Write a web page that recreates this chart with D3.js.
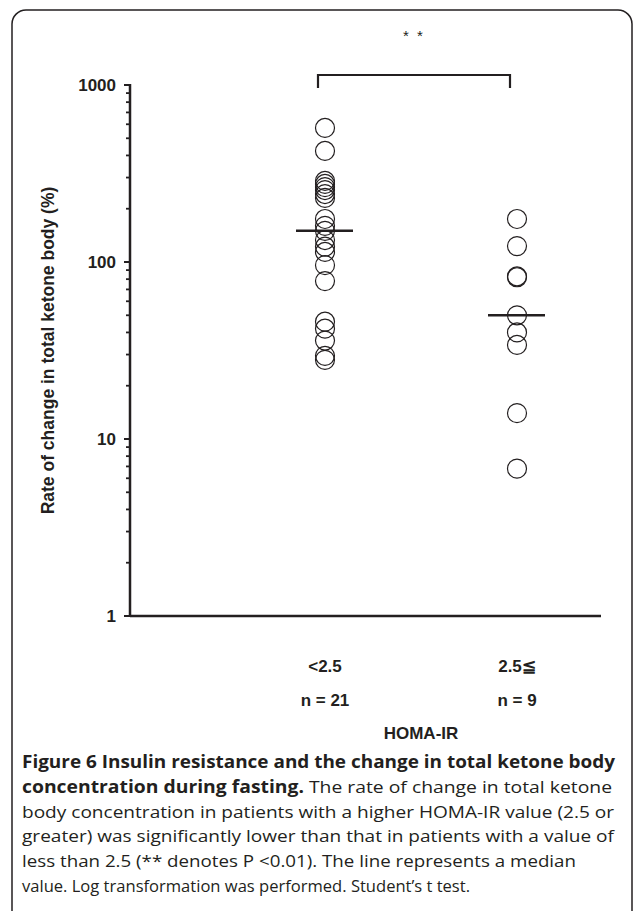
<!DOCTYPE html>
<html>
<head>
<meta charset="utf-8">
<script src="https://cdn.jsdelivr.net/npm/d3@7"></script>
<style>
body{margin:0;background:#fff;}
svg{display:block;}
</style>
</head>
<body>
<div id="graph"></div>
<script>
// categories and values (rate of change in total ketone body, %)
var groups = ["<2.5", "2.5≦"];
var counts = ["n = 21", "n = 9"];
var lowIR = [572, 424, 287, 276, 265, 255, 242, 230, 175, 160, 150, 133, 122, 114, 96, 78, 46, 42, 36, 29.5, 28];
var highIR = [175, 123, 83, 82, 50, 40, 34, 14, 6.8];
var yTicks = [1, 10, 100, 1000];
var captionBold = "Figure 6 Insulin resistance and the change in total ketone body";
var captionLines = [
  ["concentration during fasting.", " The rate of change in total ketone"],
  ["", "body concentration in patients with a higher HOMA-IR value (2.5 or"],
  ["", "greater) was significantly lower than that in patients with a value of"],
  ["", "less than 2.5 (** denotes P <0.01). The line represents a median"],
  ["", "value. Log transformation was performed. Student\u2019s t test."]
];

var W = 633, H = 911, ink = "#231f20";
var svg = d3.select("#graph").append("svg").attr("width", W).attr("height", H);

// frame
svg.append("rect").attr("x", 12).attr("y", 10).attr("width", 620).attr("height", 1000)
  .attr("rx", 14).attr("fill", "none").attr("stroke", ink).attr("stroke-width", 1.5);

var y = d3.scaleLog().domain([1, 1000]).range([616, 85]);
var x = d3.scalePoint().domain(groups).range([229, 613]).padding(0.5);
var chartFont = "'Liberation Sans', Arial, sans-serif";

// y axis (major + minor ticks)
var minor = [];
[1, 10, 100].forEach(function(d){ for (var k = 2; k < 10; k++) minor.push(d * k); });
var axisX = 130;
svg.append("line").attr("x1", axisX).attr("x2", axisX).attr("y1", y(1000) - 1).attr("y2", y(1) + 1)
  .attr("stroke", ink).attr("stroke-width", 2.5);
svg.selectAll(".minor").data(minor).enter().append("line")
  .attr("x1", axisX - 4).attr("x2", axisX).attr("y1", function(d){ return y(d); }).attr("y2", function(d){ return y(d); })
  .attr("stroke", ink).attr("stroke-width", 1.8);
svg.selectAll(".major").data(yTicks).enter().append("line")
  .attr("x1", axisX - 6).attr("x2", axisX).attr("y1", function(d){ return y(d); }).attr("y2", function(d){ return y(d); })
  .attr("stroke", ink).attr("stroke-width", 2);
svg.selectAll(".ylab").data(yTicks).enter().append("text")
  .attr("x", axisX - 14).attr("y", function(d){ return y(d); }).attr("dy", "0.36em")
  .attr("text-anchor", "end").attr("font-family", chartFont).attr("font-weight", "bold")
  .attr("font-size", 17).attr("fill", ink).text(function(d){ return d; });

// x axis line
svg.append("line").attr("x1", axisX).attr("x2", 601).attr("y1", y(1)).attr("y2", y(1))
  .attr("stroke", ink).attr("stroke-width", 2.5);

// y title
svg.append("text").attr("transform", "translate(54," + ((y(1000) + y(1)) / 2) + ") rotate(-90)")
  .attr("text-anchor", "middle").attr("font-family", chartFont).attr("font-weight", "bold")
  .attr("font-size", 17.5).attr("fill", ink).text("Rate of change in total ketone body (%)");

// points
var sets = [lowIR, highIR];
sets.forEach(function(vals, i){
  var g = svg.append("g");
  g.selectAll("circle").data(vals).enter().append("circle")
    .attr("cx", x(groups[i])).attr("cy", function(d){ return y(d); }).attr("r", 9.5)
    .attr("fill", "none").attr("stroke", ink).attr("stroke-width", 1.2);
  var med = d3.median(vals);
  g.append("line").attr("x1", x(groups[i]) - 29).attr("x2", x(groups[i]) + 28)
    .attr("y1", y(med)).attr("y2", y(med)).attr("stroke", ink).attr("stroke-width", 2.5);
});

// significance bracket
var bx0 = x(groups[0]) - 7, bx1 = x(groups[1]) - 7, by = 75;
svg.append("path").attr("d", "M" + bx0 + "," + (by + 13) + "V" + by + "H" + bx1 + "V" + (by + 13))
  .attr("fill", "none").attr("stroke", ink).attr("stroke-width", 2.2);
svg.append("text").attr("x", (bx0 + bx1) / 2).attr("y", 41).attr("text-anchor", "middle")
  .attr("font-family", chartFont).attr("font-size", 15).attr("letter-spacing", 2).attr("fill", ink).text("* *");

// x labels
groups.forEach(function(gname, i){
  svg.append("text").attr("x", x(gname)).attr("y", y(1) + 56).attr("text-anchor", "middle")
    .attr("font-family", chartFont).attr("font-weight", "bold").attr("font-size", 17).attr("fill", ink).text(gname);
  svg.append("text").attr("x", x(gname)).attr("y", y(1) + 90).attr("text-anchor", "middle")
    .attr("font-family", chartFont).attr("font-weight", "bold").attr("font-size", 17).attr("fill", ink).text(counts[i]);
});
svg.append("text").attr("x", (x(groups[0]) + x(groups[1])) / 2).attr("y", y(1) + 123).attr("text-anchor", "middle")
  .attr("font-family", chartFont).attr("font-weight", "bold").attr("font-size", 17).attr("fill", ink).text("HOMA-IR");

// caption
var capFont = "'Open Sans', 'Noto Sans', sans-serif";
var capY = 768, lh = 24.8;
var widths = [593, 590, 592, 592, 554, 448];
svg.append("text").attr("x", 22).attr("y", capY).attr("font-family", capFont)
  .attr("font-size", 17).attr("font-weight", "bold").attr("fill", ink)
  .attr("textLength", widths[0]).attr("lengthAdjust", "spacingAndGlyphs").text(captionBold);
captionLines.forEach(function(parts, i){
  var t = svg.append("text").attr("x", 22).attr("y", capY + lh * (i + 1)).attr("font-family", capFont)
    .attr("font-size", 17).attr("fill", ink)
    .attr("textLength", widths[i + 1]).attr("lengthAdjust", "spacingAndGlyphs");
  if (parts[0]) t.append("tspan").attr("font-weight", "bold").text(parts[0]);
  t.append("tspan").text(parts[1]);
});
</script>
</body>
</html>
